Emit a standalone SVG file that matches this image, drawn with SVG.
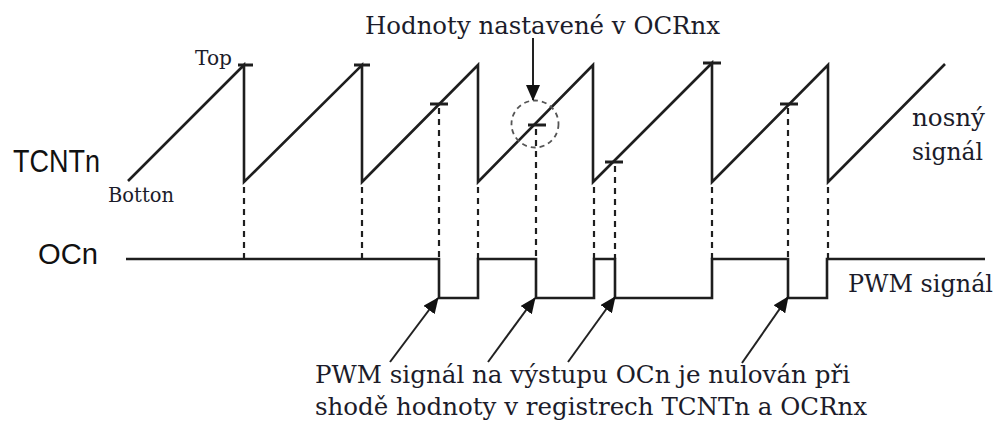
<svg xmlns="http://www.w3.org/2000/svg" width="999" height="423" viewBox="0 0 999 423">
<defs>
<style>
.ln{fill:none;stroke:#1e1e1e;stroke-width:2.6;stroke-linejoin:miter;stroke-linecap:butt}
.tick{stroke:#1e1e1e;stroke-width:3}
.dash{fill:none;stroke:#1e1e1e;stroke-width:2.2;stroke-dasharray:6 5}
.circ{fill:none;stroke:#555;stroke-width:1.8;stroke-dasharray:5 4}
.arr{fill:none;stroke:#222;stroke-width:2}
.serif{font-family:"DejaVu Serif","Liberation Serif",serif;fill:#1c1c2a}
.sans{font-family:"Liberation Sans",Arial,sans-serif;fill:#111}
</style>
<marker id="ah" viewBox="0 0 16 14" refX="15" refY="7" markerWidth="16" markerHeight="14" markerUnits="userSpaceOnUse" orient="auto">
<path d="M0,0 L16,7 L0,14 z" fill="#111"/>
</marker>
</defs>
<rect width="999" height="423" fill="#fff"/>

<g id="labels-left">
<text class="sans" x="13" y="172" font-size="31" textLength="87" lengthAdjust="spacingAndGlyphs">TCNTn</text>
<text class="sans" x="38" y="264" font-size="29" textLength="60" lengthAdjust="spacingAndGlyphs">OCn</text>
</g>

<g id="carrier">
<path class="ln" d="M128,181 L244,65 L244,182 L362,65 L362,182 L478,65 L478,182 L593,65 L593,182 L712,63 L712,182 L828,65 L828,182 L945,64"/>
<line class="tick" x1="238" y1="65" x2="253" y2="65"/>
<line class="tick" x1="354" y1="65" x2="370" y2="65"/>
<line class="tick" x1="430" y1="104" x2="448" y2="104"/>
<line class="tick" x1="528" y1="125" x2="546" y2="125"/>
<line class="tick" x1="605" y1="162" x2="623" y2="162"/>
<line class="tick" x1="703" y1="63" x2="721" y2="63"/>
<line class="tick" x1="780" y1="104" x2="798" y2="104"/>
<text class="serif" x="195" y="65" font-size="21" textLength="37" lengthAdjust="spacingAndGlyphs">Top</text>
<text class="serif" x="108" y="202" font-size="21" textLength="66" lengthAdjust="spacingAndGlyphs">Botton</text>
<text class="serif" x="912" y="126" font-size="24" textLength="73" lengthAdjust="spacingAndGlyphs">nosný</text>
<text class="serif" x="912" y="160" font-size="24" textLength="71" lengthAdjust="spacingAndGlyphs">signál</text>
</g>

<g id="pwm">
<path class="ln" d="M126,259 H439 V298 H478 V259 H536 V298 H594 V259 H615 V298 H712 V259 H788 V298 H827 V259 H985"/>
<text class="serif" x="848" y="292" font-size="24" textLength="145" lengthAdjust="spacingAndGlyphs">PWM signál</text>
</g>

<g id="ocr-note">
<text class="serif" x="365" y="34" font-size="24" textLength="355" lengthAdjust="spacingAndGlyphs">Hodnoty nastavené v OCRnx</text>
<circle class="circ" cx="535" cy="124" r="23.5"/>
</g>

<g id="connectors">
<line class="dash" x1="244" y1="187" x2="244" y2="259"/>
<line class="dash" x1="362" y1="187" x2="362" y2="259"/>
<line class="dash" x1="439" y1="108" x2="439" y2="259"/>
<line class="dash" x1="478" y1="187" x2="478" y2="259"/>
<line class="dash" x1="536" y1="129" x2="536" y2="259"/>
<line class="dash" x1="594" y1="187" x2="594" y2="259"/>
<line class="dash" x1="615" y1="166" x2="615" y2="259"/>
<line class="dash" x1="712" y1="187" x2="712" y2="259"/>
<line class="dash" x1="788" y1="108" x2="788" y2="259"/>
<line class="dash" x1="828" y1="187" x2="828" y2="259"/>
<line class="arr" x1="533" y1="38" x2="533" y2="100" marker-end="url(#ah)"/>
<line class="arr" x1="390" y1="362" x2="438" y2="298" marker-end="url(#ah)"/>
<line class="arr" x1="488" y1="362" x2="535" y2="298" marker-end="url(#ah)"/>
<line class="arr" x1="568" y1="362" x2="615" y2="297" marker-end="url(#ah)"/>
<line class="arr" x1="742" y1="363" x2="788" y2="297" marker-end="url(#ah)"/>
</g>

<g id="note-bottom">
<text class="serif" x="315" y="383" font-size="24" textLength="535" lengthAdjust="spacingAndGlyphs">PWM signál na výstupu OCn je nulován při</text>
<text class="serif" x="315" y="415" font-size="24" textLength="552" lengthAdjust="spacingAndGlyphs">shodě hodnoty v registrech TCNTn a OCRnx</text>
</g>
</svg>
